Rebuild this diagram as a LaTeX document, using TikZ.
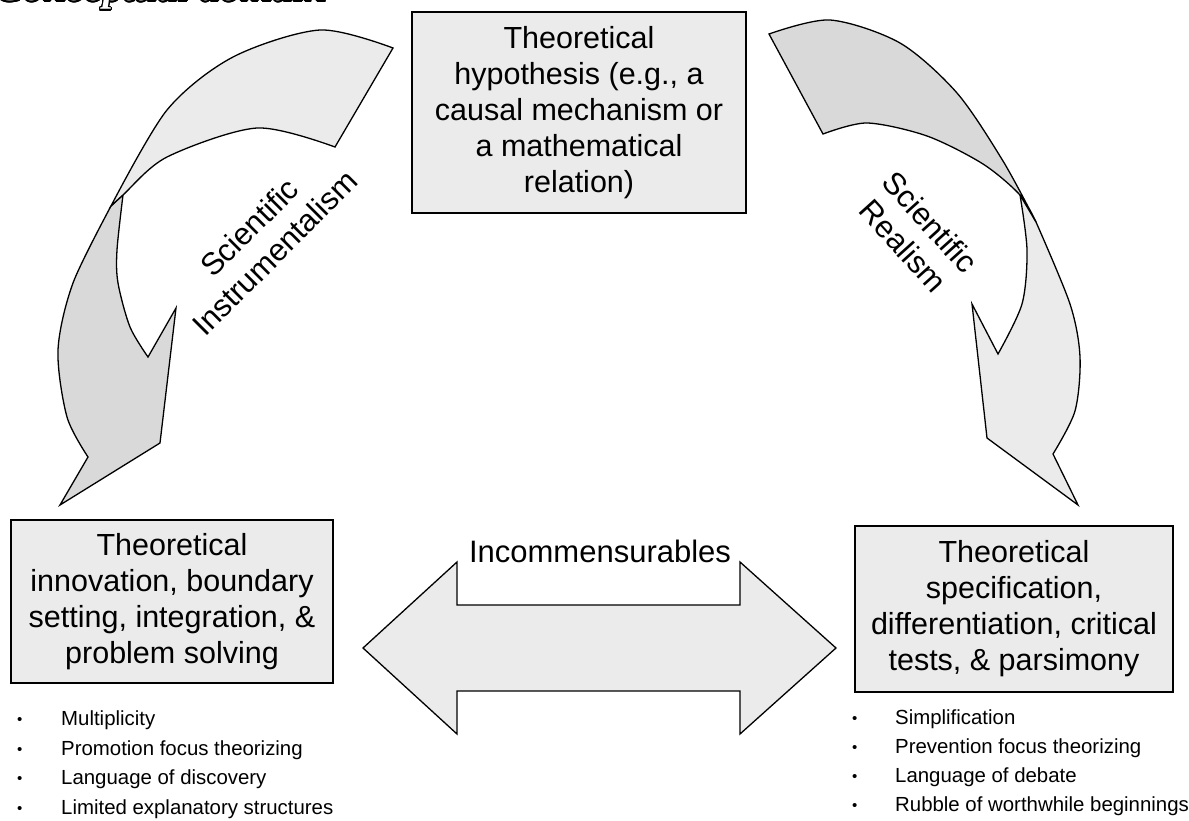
\documentclass[tikz,border=0pt]{standalone}
\usepackage{fontspec}
\setmainfont{Liberation Sans}
\newfontfamily\titlefont{Liberation Serif}
\usepackage{contour}
\contourlength{1.2pt}

\definecolor{boxgray}{HTML}{EBEBEB}
\definecolor{ribbondark}{HTML}{D9D9D9}

\tikzset{
  thbox/.style={draw=black, line width=2.5pt, fill=boxgray, align=center,
    font=\fontsize{30.5}{36}\selectfont, inner sep=0pt},
  ribbon/.style={draw=black, line width=1.3pt, line join=miter},
  biglabel/.style={align=center, font=\fontsize{31}{36}\selectfont},
  listitem/.style={anchor=base west, inner sep=0pt, font=\fontsize{20.4}{29}\selectfont},
}
\newcommand{\bul}[1]{\makebox[#1][l]{\raisebox{1pt}{\fontsize{15}{15}\selectfont\textbullet}}}

\begin{document}
\begin{tikzpicture}[x=1pt,y=-1pt]
\useasboundingbox (0,0) rectangle (1189,821);

% title, cut off at the top edge
\begin{scope}
\clip (0,0) rectangle (1189,821);
\node[anchor=base west, inner sep=0pt] (title) at (-4,1)
  {\titlefont\bfseries\itshape\fontsize{41}{41}\selectfont\contour{black}{\textcolor{white}{Conceptual domain}}};
\end{scope}

% left curved arrow
\draw[ribbon, fill=ribbondark] plot[smooth] coordinates {(123,195) (111,206)}
  -- plot[smooth] coordinates {(111,206) (73,283) (58,350) (67,417) (88,457)}
  -- (60,505) -- (160,443) -- (176,308) -- (148,357)
  -- plot[smooth] coordinates {(148,357) (130,327) (118,283) (117,250) (123,195)} -- cycle;
\draw[ribbon, fill=boxgray] plot[smooth] coordinates {(393,48) (320,30) (233,57) (167,110) (111,206)}
  -- plot[smooth] coordinates {(111,206) (123,195) (167,157) (257,128) (335,147)} -- cycle;

% right curved arrow
\draw[ribbon, fill=boxgray] plot[smooth] coordinates {(1020,195) (1036,222)}
  -- plot[smooth] coordinates {(1036,222) (1070,304) (1080,357) (1075,411) (1053,454)}
  -- (1078,505) -- (987,438) -- (972,304) -- (998,354)
  -- plot[smooth] coordinates {(998,354) (1022,304) (1027,250) (1020,195)} -- cycle;
\draw[ribbon, fill=ribbondark] plot[smooth] coordinates {(769,34) (830,20) (900,43) (957,93) (1003,161) (1036,222)}
  -- plot[smooth] coordinates {(1036,222) (1020,195) (983,164) (927,136) (867,123) (823,134)} -- cycle;

% double arrow
\draw[ribbon, fill=boxgray] (363,648) -- (457,562) -- (457,605) -- (740,605) -- (740,562)
  -- (836,648) -- (740,734) -- (740,691) -- (457,691) -- (457,734) -- cycle;
\node[biglabel] (incomm) at (600,551) {Incommensurables};

\node[thbox, minimum width=334pt, minimum height=201pt] (hypo) at (579,112.5)
  {Theoretical\\hypothesis (e.g., a\\causal mechanism or\\a mathematical\\relation)};
\node[thbox, minimum width=322pt, minimum height=163pt] (innov) at (172,601.5)
  {Theoretical\\innovation, boundary\\setting, integration, \&\\problem solving};
\node[thbox, minimum width=318pt, minimum height=166pt] (spec) at (1014,609)
  {Theoretical\\specification,\\differentiation, critical\\tests, \& parsimony};

\node[biglabel, rotate=45] (instr) at (262,240) {Scientific\\Instrumentalism};
\node[biglabel, rotate=-48] (real) at (917,234) {Scientific\\Realism};

\node[listitem] (multi) at (17,725) {\bul{44pt}Multiplicity};
\node[listitem] (promo) at (17,755) {\bul{44pt}Promotion focus theorizing};
\node[listitem] (disco) at (17,784) {\bul{44pt}Language of discovery};
\node[listitem] (limit) at (17,814) {\bul{44pt}Limited explanatory structures};

\node[listitem] (simpl) at (852,724) {\bul{43pt}Simplification};
\node[listitem] (preve) at (852,753) {\bul{43pt}Prevention focus theorizing};
\node[listitem] (debat) at (852,782) {\bul{43pt}Language of debate};
\node[listitem] (rubbl) at (852,811) {\bul{43pt}Rubble of worthwhile beginnings};

\end{tikzpicture}
\end{document}
